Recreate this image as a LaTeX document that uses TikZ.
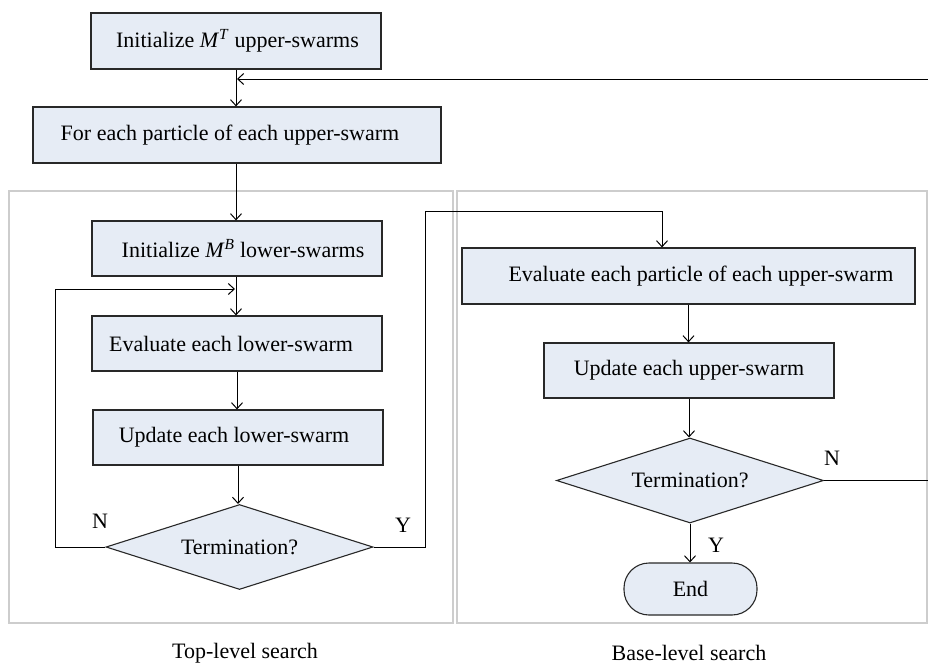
\documentclass[tikz,border=0pt]{standalone}
\usepackage{fontspec}
\setmainfont{Liberation Serif}
\usetikzlibrary{arrows.meta,shapes.geometric}
\definecolor{boxfill}{RGB}{230,236,245}
\definecolor{boxline}{RGB}{40,40,40}
\definecolor{panelline}{RGB}{205,205,205}
\tikzset{
  procbox/.style={draw=boxline, line width=1.2pt, fill=boxfill, inner sep=0pt,
    font=\fontsize{22}{26}\selectfont},
  decbox/.style={draw=boxline, line width=1.1pt, fill=boxfill, diamond, aspect=3.14,
    inner sep=0pt, minimum width=267pt, minimum height=85pt,
    font=\fontsize{22}{26}\selectfont},
  endbox/.style={draw=boxline, line width=1.1pt, fill=boxfill, rounded corners=25pt,
    inner sep=0pt, minimum width=133pt, minimum height=52pt,
    font=\fontsize{22}{26}\selectfont},
  panel/.style={draw=panelline, line width=1.3pt},
  lbl/.style={inner sep=0pt, font=\fontsize{22}{26}\selectfont},
  conn/.style={draw=black, line width=1pt},
  arr/.style={conn, -{Straight Barb[length=6pt,width=11pt]}}
}
\begin{document}
\begin{tikzpicture}[x=1pt,y=-1pt]
\useasboundingbox (0,0) rectangle (928,664);
% panels
\draw[panel] (9,191) rectangle (453,623);
\draw[panel] (457,191) rectangle (927,623);
\node[lbl] (t1) at (245,653) {Top-level search};
\node[lbl] (t2) at (689,653) {Base-level search};
% boxes
\node[procbox, minimum width=290pt, minimum height=56pt] (b1) at (236,41)
  {\hspace*{3pt}Initialize \textit{M}\textsuperscript{\textit{T}} upper-swarms};
\node[procbox, minimum width=408pt, minimum height=56pt] (b2) at (237,135)
  {For each particle of each upper-swarm\hspace*{14pt}};
\node[procbox, minimum width=290pt, minimum height=55pt] (b3) at (237,248.5)
  {\hspace*{12pt}Initialize \textit{M}\textsuperscript{\textit{B}} lower-swarms};
\node[procbox, minimum width=290pt, minimum height=55pt] (b4) at (237,343.5)
  {Evaluate each lower-swarm\hspace*{12pt}};
\node[procbox, minimum width=290pt, minimum height=55pt] (b5) at (238,437.5)
  {Update each lower-swarm\hspace*{8pt}};
\node[decbox] (d1) at (239.5,547) {Termination?};
\node[procbox, minimum width=453pt, minimum height=56pt] (b6) at (688.5,276)
  {\hspace*{25pt}Evaluate each particle of each upper-swarm};
\node[procbox, minimum width=290pt, minimum height=55pt] (b7) at (689,370.5)
  {Update each upper-swarm};
\node[decbox] (d2) at (690,480.5) {Termination?};
\node[endbox] (e) at (690.5,589) {End};
% labels
\node[lbl] (n1) at (100,521) {N};
\node[lbl] (y1) at (403,525) {Y};
\node[lbl] (n2) at (832,458) {N};
\node[lbl] (y2) at (716,545) {Y};
% coordinates
\coordinate (loopin) at (235,289);
\coordinate (yturn) at (662,211);
\coordinate (redge) at (928,480.5);
\coordinate (rtop) at (928,79);
% connectors
\draw[arr] (b1.south) -- (b1.south |- b2.north);
\draw[arr] (rtop) -- ([xshift=1pt]b1.south |- rtop);
\draw[arr] (b2.south -| b1.south) -- (b1.south |- b3.north);
\draw[arr] (b3.south -| b1.south) -- (b1.south |- b4.north);
\draw[arr] (b4.south) -- (b4.south |- b5.north);
\draw[arr] (b5.south) -- (b5.south |- d1.north);
\draw[arr] (d1.west) -- ++(-50,0) |- (loopin);
\draw[arr] (d1.east) -- ++(52,0) |- (yturn) -- (yturn |- b6.north);
\draw[arr] (b6.south) -- (b6.south |- b7.north);
\draw[arr] (b7.south) -- (b7.south |- d2.north);
\draw[arr] (d2.south) -- (d2.south |- e.north);
\draw[conn] (d2.east) -- (redge);
\end{tikzpicture}
\end{document}
